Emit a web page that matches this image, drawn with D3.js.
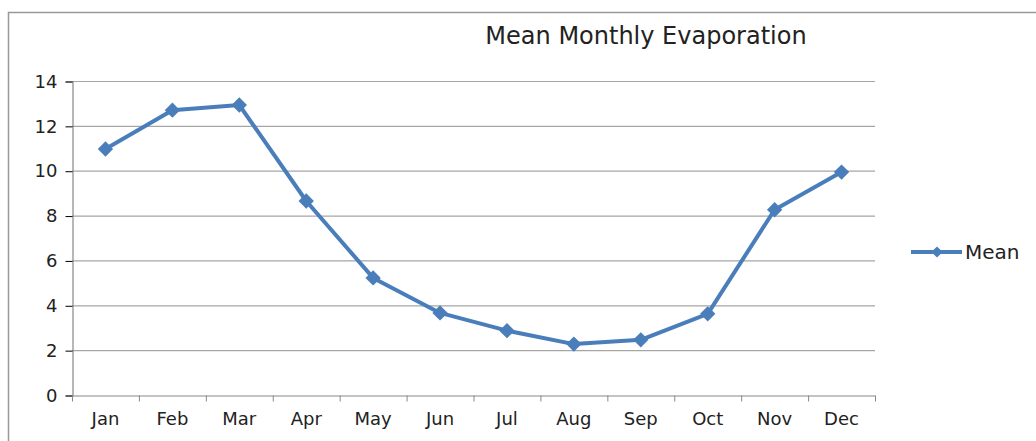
<!DOCTYPE html>
<html>
<head>
<meta charset="utf-8">
<script src="https://cdn.jsdelivr.net/npm/d3@7"></script>
<style>
  body { margin: 0; background: #fff; }
  text { font-family: "DejaVu Sans", "Noto Sans", sans-serif; fill: #222; }
</style>
</head>
<body>
<svg width="1036" height="441"></svg>
<script>
var months = ["Jan", "Feb", "Mar", "Apr", "May", "Jun", "Jul", "Aug", "Sep", "Oct", "Nov", "Dec"];
var meanValues = [10.97, 12.7, 12.93, 8.65, 5.22, 3.66, 2.87, 2.27, 2.46, 3.62, 8.26, 9.94];
var yTicks = [0, 2, 4, 6, 8, 10, 12, 14];
var seriesName = "Mean";
var title = "Mean Monthly Evaporation";

var svg = d3.select("svg"),
  width = +svg.attr("width"),
  height = +svg.attr("height");

var blue = "#4a7ebb";

// chart frame
svg.append("rect")
  .attr("x", 8.5).attr("y", 12.5)
  .attr("width", 1040).attr("height", 440)
  .attr("fill", "none")
  .attr("stroke", "#999")
  .attr("stroke-width", 1.5);

var x = d3.scaleBand().domain(months).range([72, 875]);
var y = d3.scaleLinear().domain([0, 14]).range([395, 81]);

// gridlines
svg.append("g")
  .selectAll("line")
  .data(yTicks.filter(function(d) { return d > 0; }))
  .enter().append("line")
  .attr("x1", 72).attr("x2", 875)
  .attr("y1", function(d) { return y(d) + 0.5; })
  .attr("y2", function(d) { return y(d) + 0.5; })
  .attr("stroke", "#a6a6a6")
  .attr("stroke-width", 1.2);

// y axis
var yAxis = svg.append("g")
  .attr("transform", "translate(72.5,0.5)")
  .call(d3.axisLeft(y).tickValues(yTicks).tickSize(7).tickPadding(8));
yAxis.selectAll("text").style("font-size", "18px").attr("fill", "#222");

// x axis
var xAxis = svg.append("g")
  .attr("transform", "translate(0," + (y(0) + 0.5) + ")")
  .call(d3.axisBottom(x).tickSize(0).tickPadding(17));
xAxis.selectAll("text").style("font-size", "18px").attr("fill", "#222");
xAxis.selectAll(".tick line").remove();
xAxis.selectAll(".bandtick")
  .data(months.concat(["end"]))
  .enter().append("line")
  .attr("x1", function(d, i) { return x.range()[0] + i * x.step() + 0.5; })
  .attr("x2", function(d, i) { return x.range()[0] + i * x.step() + 0.5; })
  .attr("y1", 0).attr("y2", 6)
  .attr("stroke", "#888");

svg.selectAll(".domain").attr("stroke", "#888").attr("stroke-width", 1.2);

// series line
var pts = months.map(function(m, i) { return { m: m, v: meanValues[i] }; });
var line = d3.line()
  .x(function(d) { return x(d.m) + x.bandwidth() / 2; })
  .y(function(d) { return y(d.v); });

svg.append("path")
  .datum(pts)
  .attr("d", line)
  .attr("fill", "none")
  .attr("stroke", blue)
  .attr("stroke-width", 4)
  .attr("stroke-linejoin", "round");

var diamond = d3.symbol().type(d3.symbolDiamond2).size(150);
svg.selectAll(".pt")
  .data(pts)
  .enter().append("path")
  .attr("class", "pt")
  .attr("d", diamond)
  .attr("transform", function(d) {
    return "translate(" + (x(d.m) + x.bandwidth() / 2) + "," + y(d.v) + ")";
  })
  .attr("fill", blue);

// title
svg.append("text")
  .attr("x", 646).attr("y", 44)
  .attr("text-anchor", "middle")
  .style("font-size", "24px")
  .text(title);

// legend
var lg = svg.append("g").attr("transform", "translate(911,252)");
lg.append("line").attr("x1", 0).attr("x2", 51).attr("y1", 0).attr("y2", 0)
  .attr("stroke", blue).attr("stroke-width", 4);
lg.append("path").attr("d", d3.symbol().type(d3.symbolDiamond2).size(80))
  .attr("transform", "translate(26,0)").attr("fill", blue);
lg.append("text").attr("x", 54).attr("y", 7)
  .style("font-size", "20px")
  .text(seriesName);
</script>
</body>
</html>
